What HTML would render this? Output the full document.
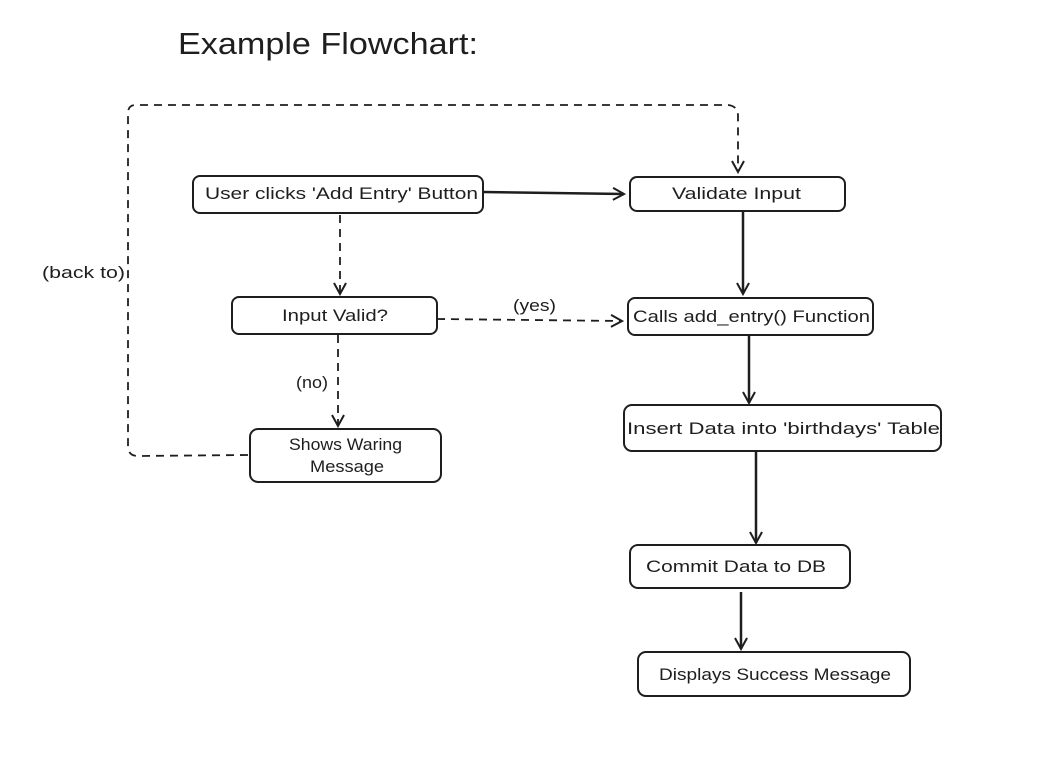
<!DOCTYPE html>
<html><head><meta charset="utf-8"><style>
html,body{margin:0;padding:0;background:#fff}
svg{display:block}
text{font-family:"Liberation Sans",sans-serif;fill:#1e1e1e}
</style></head><body>
<svg width="1050" height="765" viewBox="0 0 1050 765" xmlns="http://www.w3.org/2000/svg">
<defs>
<marker id="a" markerWidth="14" markerHeight="14" refX="12" refY="7" orient="auto" markerUnits="userSpaceOnUse">
<path d="M1,1 L12,7 L1,13" fill="none" stroke="#1e1e1e" stroke-width="2"/>
</marker>
</defs>
<text x="178" y="54" font-size="31" textLength="300" lengthAdjust="spacingAndGlyphs">Example Flowchart:</text>
<g fill="none" stroke="#1e1e1e" stroke-width="2">
<rect x="193" y="176" width="290" height="37" rx="7"/>
<rect x="630" y="177" width="215" height="34" rx="7"/>
<rect x="232" y="297" width="205" height="37" rx="7"/>
<rect x="628" y="298" width="245" height="37" rx="7"/>
<rect x="250" y="429" width="191" height="53" rx="8"/>
<rect x="624" y="405" width="317" height="46" rx="8"/>
<rect x="630" y="545" width="220" height="43" rx="8"/>
<rect x="638" y="652" width="272" height="44" rx="8"/>
<g stroke-width="2.5">
<line x1="483" y1="192" x2="624" y2="194" marker-end="url(#a)"/>
<line x1="743" y1="212" x2="743" y2="294" marker-end="url(#a)"/>
<line x1="749" y1="335" x2="749" y2="403" marker-end="url(#a)"/>
<line x1="756" y1="451" x2="756" y2="543" marker-end="url(#a)"/>
<line x1="741" y1="592" x2="741" y2="649" marker-end="url(#a)"/>
</g>
<g stroke-dasharray="8 6" stroke-width="1.8">
<line x1="340" y1="215" x2="340" y2="294" marker-end="url(#a)"/>
<line x1="437" y1="319" x2="622" y2="321" marker-end="url(#a)"/>
<line x1="338" y1="335" x2="338" y2="426" marker-end="url(#a)"/>
<path d="M248,455 L138,456 Q128,456 128,446 L128,113 Q128,105 136,105 L728,105 Q738,106 738,116 L738,172" marker-end="url(#a)"/>
</g>
</g>
<g font-size="17" text-anchor="middle" lengthAdjust="spacingAndGlyphs">
<text x="341.5" y="199" textLength="273" lengthAdjust="spacingAndGlyphs">User clicks 'Add Entry' Button</text>
<text x="736.5" y="199" textLength="129" lengthAdjust="spacingAndGlyphs">Validate Input</text>
<text x="335" y="321" textLength="106" lengthAdjust="spacingAndGlyphs">Input Valid?</text>
<text x="751.5" y="322" textLength="237" lengthAdjust="spacingAndGlyphs">Calls add_entry() Function</text>
<text x="345.5" y="450" textLength="113" lengthAdjust="spacingAndGlyphs">Shows Waring</text>
<text x="347" y="472" textLength="74" lengthAdjust="spacingAndGlyphs">Message</text>
<text x="783.5" y="434" textLength="313" lengthAdjust="spacingAndGlyphs">Insert Data into 'birthdays' Table</text>
<text x="736" y="572" textLength="180" lengthAdjust="spacingAndGlyphs">Commit Data to DB</text>
<text x="775" y="680" textLength="232" lengthAdjust="spacingAndGlyphs">Displays Success Message</text>
<text x="534.5" y="311" textLength="43" lengthAdjust="spacingAndGlyphs">(yes)</text>
<text x="312" y="388" textLength="32" lengthAdjust="spacingAndGlyphs">(no)</text>
<text x="83.5" y="278" textLength="83" lengthAdjust="spacingAndGlyphs">(back to)</text>
</g>
</svg>
</body></html>
